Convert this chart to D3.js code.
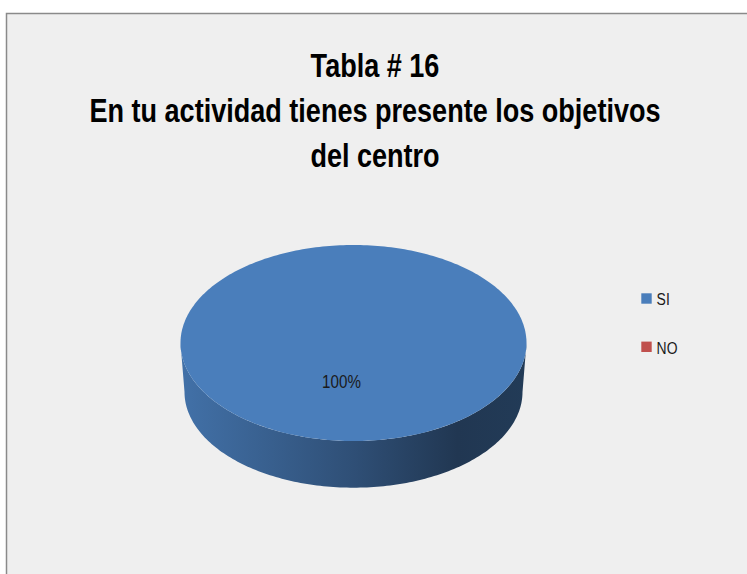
<!DOCTYPE html>
<html>
<head>
<meta charset="utf-8">
<title>Tabla # 16</title>
<script src="https://cdn.jsdelivr.net/npm/d3@7"></script>
<style>
  body { margin: 0; background: #fff; }
  text { font-family: "Liberation Sans", Arial, sans-serif; }
</style>
</head>
<body>
<script>
var categories = ["SI", "NO"];
var values = [100, 0];
var colors = ["#4a7ebb", "#c0504d"];
var titleLines = ["Tabla # 16", "En tu actividad tienes presente los objetivos", "del centro"];

var width = 747, height = 574;
var squeeze = 0.82; // narrow the text like the original condensed face

// top and bottom ellipse of the 3d pie
var topE = {cx: 353.5, cy: 343, rx: 173, ry: 98};
var botE = {cx: 353.5, cy: 392, rx: 169, ry: 95.7};

var svg = d3.select("body").append("svg")
    .attr("width", width)
    .attr("height", height);

svg.append("rect")
    .attr("x", 6.5).attr("y", 13.5)
    .attr("width", width + 10).attr("height", height + 10)
    .attr("fill", "#efefef")
    .attr("stroke", "#8a8a8a")
    .attr("stroke-width", 1.5);

function at(x, y) {
    return "translate(" + x + "," + y + ") scale(" + squeeze + ",1)";
}

// title
svg.append("g").selectAll("text")
    .data(titleLines)
    .enter().append("text")
    .attr("transform", function (d, i) { return at(375, 77 + i * 45); })
    .attr("text-anchor", "middle")
    .attr("font-size", 33)
    .attr("font-weight", "bold")
    .attr("fill", "#000")
    .text(function (d) { return d; });

var pie = d3.pie().sort(null);
var arcs = pie(values);
var total = d3.sum(values);

function pt(e, a) {
    return [e.cx + e.rx * Math.sin(a), e.cy - e.ry * Math.cos(a)];
}
function ring(e, a0, a1) {
    var n = Math.max(2, Math.ceil(Math.abs(a1 - a0) / 0.02));
    return d3.range(n + 1).map(function (i) { return pt(e, a0 + (a1 - a0) * i / n); });
}
var line = d3.line();

var defs = svg.append("defs");
arcs.forEach(function (d, i) {
    var c = d3.color(colors[i]);
    var g = defs.append("linearGradient")
        .attr("id", "side" + i)
        .attr("gradientUnits", "userSpaceOnUse")
        .attr("x1", topE.cx - topE.rx).attr("x2", topE.cx + topE.rx)
        .attr("y1", 0).attr("y2", 0);
    [[0, 0.3], [0.5, 1.3], [0.8, 2.3], [1, 2.15]].forEach(function (s) {
        g.append("stop").attr("offset", s[0]).attr("stop-color", c.darker(s[1]));
    });
});

// sides (front half only)
arcs.forEach(function (d, i) {
    var a0 = Math.max(d.startAngle, Math.PI / 2),
        a1 = Math.min(d.endAngle, 3 * Math.PI / 2);
    if (a1 <= a0) return;
    var pts = ring(topE, a0, a1).concat(ring(botE, a1, a0));
    svg.append("path")
        .attr("d", line(pts) + "Z")
        .attr("fill", "url(#side" + i + ")");
});

// top faces
arcs.forEach(function (d, i) {
    if (d.endAngle - d.startAngle <= 0) return;
    var pts = ring(topE, d.startAngle, d.endAngle);
    if (d.endAngle - d.startAngle < 2 * Math.PI - 1e-6) pts.unshift([topE.cx, topE.cy]);
    svg.append("path")
        .attr("d", line(pts) + "Z")
        .attr("fill", colors[i]);
});

// data labels
var fmt = d3.format(".0%");
arcs.forEach(function (d, i) {
    if (d.value <= 0) return;
    var mid = (d.startAngle + d.endAngle) / 2;
    var p = [topE.cx + 0.39 * topE.rx * Math.sin(mid), topE.cy - 0.39 * topE.ry * Math.cos(mid)];
    svg.append("text")
        .attr("transform", at(p[0] - 12, p[1]))
        .attr("dy", "0.35em")
        .attr("text-anchor", "middle")
        .attr("font-size", 18.5)
        .attr("fill", "#1a1a1a")
        .text(fmt(d.value / total));
});

// legend
var ly = d3.scalePoint().domain(categories).range([293.3, 341.6]);
var legend = svg.append("g").selectAll("g")
    .data(categories)
    .enter().append("g")
    .attr("transform", function (d) { return "translate(641.3," + ly(d) + ")"; });
legend.append("rect")
    .attr("width", 10.4).attr("height", 10.4)
    .attr("fill", function (d, i) { return colors[i]; });
legend.append("text")
    .attr("transform", at(15.3, 12))
    .attr("font-size", 17)
    .attr("fill", "#1a1a1a")
    .text(function (d) { return d; });
</script>
</body>
</html>
